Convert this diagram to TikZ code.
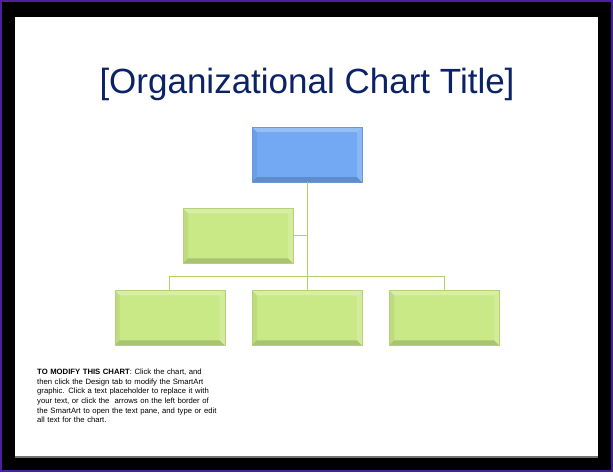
\documentclass[tikz,border=0pt]{standalone}
\usepackage{fontspec}
\setmainfont{Liberation Sans}
\usepackage{xcolor}
\usetikzlibrary{positioning, calc}

\definecolor{frameviolet}{HTML}{4B1FA0}
\definecolor{titlenavy}{HTML}{0B2366}
\definecolor{headblue}{HTML}{72A9F2}
\definecolor{staffgreen}{HTML}{C9E987}
\definecolor{linkgreen}{HTML}{AED36A}

\begin{document}
\begin{tikzpicture}[x=1pt, y=-1pt, node distance=27pt]
        \tikzstyle{unit} = [rectangle, minimum width=110pt, minimum height=55pt, inner sep=0pt,
            path picture={
                \fill[white, opacity=.25] (path picture bounding box.north west) -- (path picture bounding box.north east)
                    -- ++(-5pt,-5pt) -- ($(path picture bounding box.north west)+(5pt,-5pt)$) -- cycle;
                \fill[black, opacity=.06] (path picture bounding box.north west) -- (path picture bounding box.south west)
                    -- ++(5pt,5pt) -- ($(path picture bounding box.north west)+(5pt,-5pt)$) -- cycle;
                \fill[black, opacity=.16] (path picture bounding box.south west) -- (path picture bounding box.south east)
                    -- ++(-5pt,5pt) -- ($(path picture bounding box.south west)+(5pt,5pt)$) -- cycle;
                \fill[white, opacity=.18] (path picture bounding box.north east) -- (path picture bounding box.south east)
                    -- ++(-5pt,5pt) -- ($(path picture bounding box.north east)+(-5pt,-5pt)$) -- cycle;
            }]
        \tikzstyle{bluebox} = [unit, fill=headblue, draw=headblue!90!black, line width=.3pt]
        \tikzstyle{greenbox} = [unit, fill=staffgreen, draw=staffgreen!90!black, line width=.3pt]
        \tikzstyle{link} = [draw=linkgreen, line width=.9pt]

        % slide frame
        \fill[frameviolet] (0,0) rectangle (613,472);
        \fill[black] (2,2) rectangle (611,470);
        \fill[black!55] (15,17) rectangle (598,458);
        \fill[white] (15,17) rectangle (598,456);

        \node[font=\fontsize{35}{40}\selectfont, text=titlenavy] (title) at (307,84) {[Organizational Chart Title]};

        \node[bluebox] (head) at (307,154.5) {};
        \node[greenbox, below=26pt of head, xshift=-69pt] (assistant) {};
        \node[greenbox, below=108pt of head] (sub2) {};
        \node[greenbox, left=of sub2] (sub1) {};
        \node[greenbox, right=of sub2] (sub3) {};

        \coordinate (bar) at ($(head.south)!0.87!(sub2.north)$);

        \path[link] (head.south) -- (sub2.north);
        \path[link] (assistant.east) -- (assistant.east -| head.south);
        \path[link] (sub1.north) |- (bar) -| (sub3.north);

        \node[anchor=north west, text width=190pt, align=left, inner sep=0pt,
            font=\fontsize{7.7}{9.6}\selectfont] (note) at (37,369)
            {\textbf{TO MODIFY THIS CHART}: Click the chart, and\\
             then click the Design tab to modify the SmartArt\\
             graphic. Click a text placeholder to replace it with\\
             your text, or click the \ arrows on the left border of\\
             the SmartArt to open the text pane, and type or edit\\
             all text for the chart.};
    \end{tikzpicture}
\end{document}
